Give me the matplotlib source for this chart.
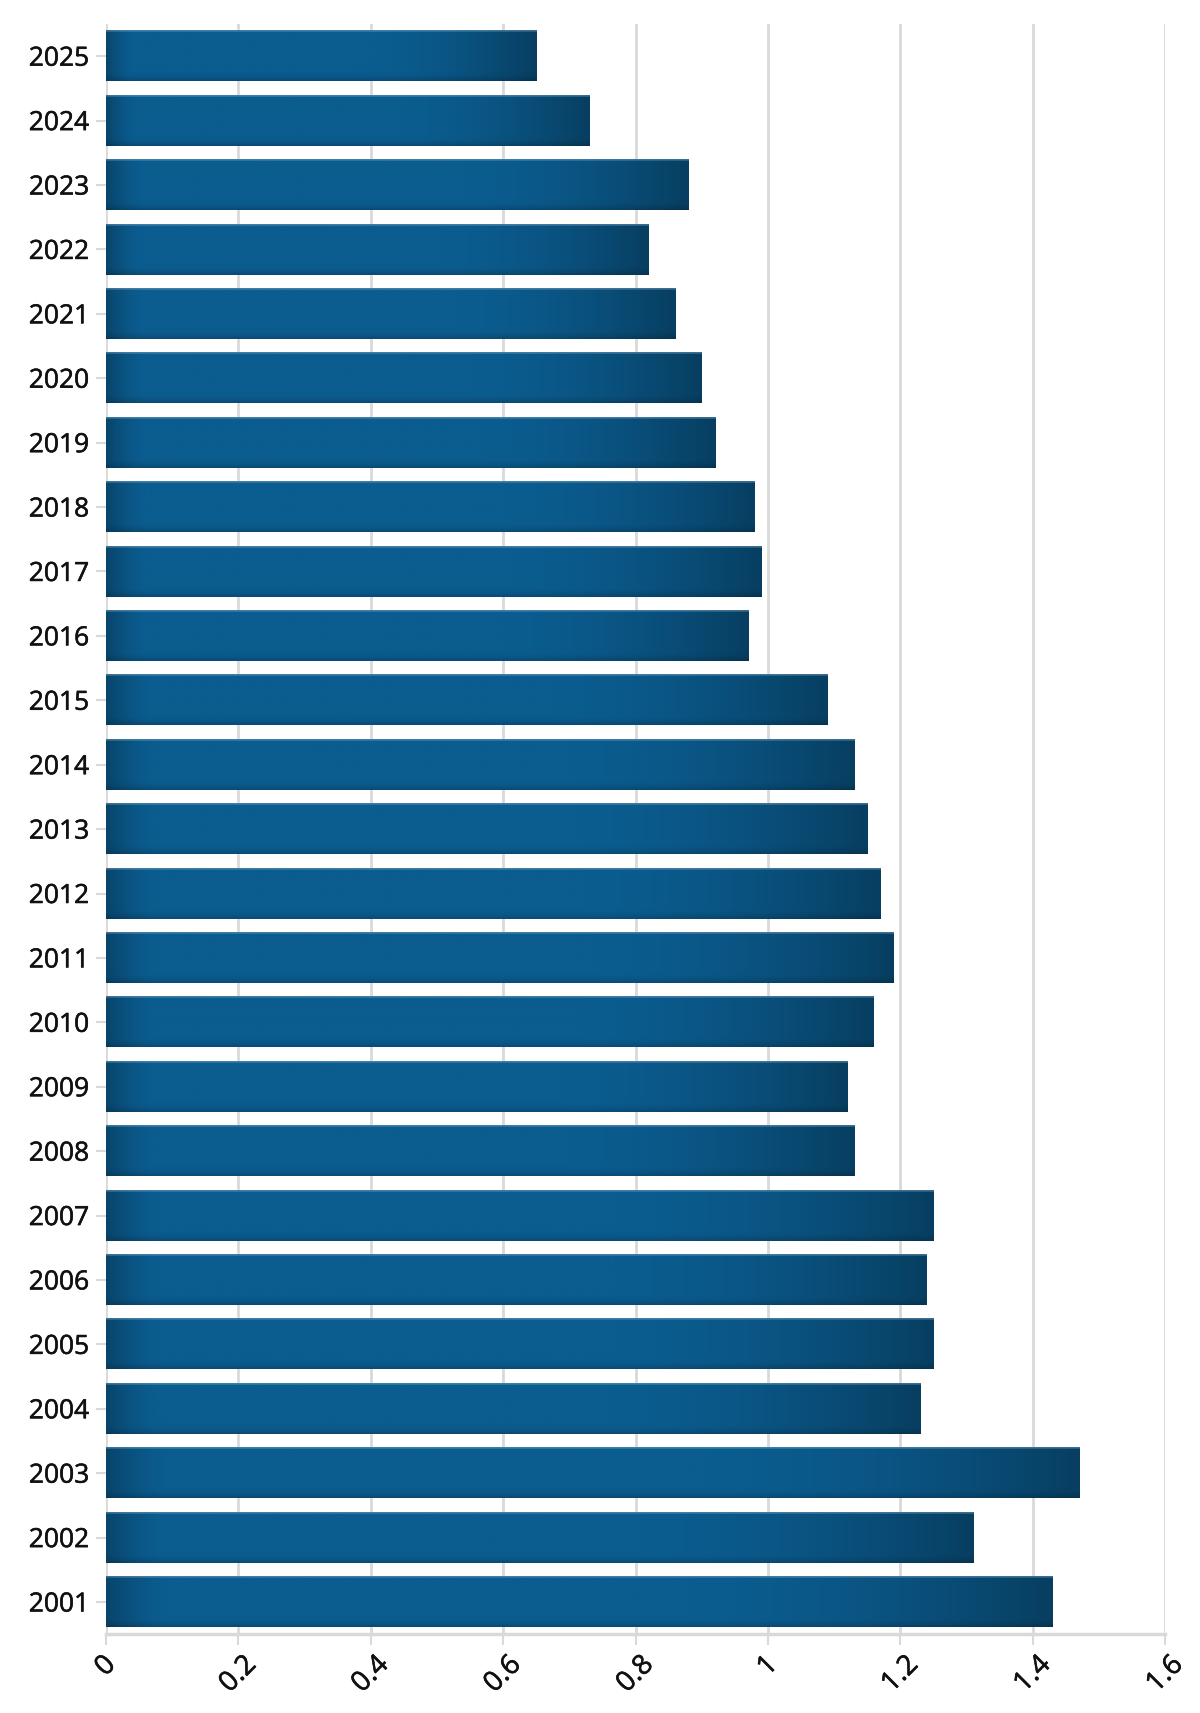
import numpy as np
import matplotlib
matplotlib.use("Agg")
from matplotlib import pyplot as plt
from matplotlib import patheffects

# data
years = [2025, 2024, 2023, 2022, 2021, 2020, 2019, 2018, 2017, 2016, 2015, 2014, 2013,
         2012, 2011, 2010, 2009, 2008, 2007, 2006, 2005, 2004, 2003, 2002, 2001]
values = [0.65, 0.73, 0.88, 0.82, 0.86, 0.90, 0.92, 0.98, 0.99, 0.97, 1.09, 1.13, 1.15,
          1.17, 1.19, 1.16, 1.12, 1.13, 1.25, 1.24, 1.25, 1.23, 1.47, 1.31, 1.43]
xticks = [0, 0.2, 0.4, 0.6, 0.8, 1, 1.2, 1.4, 1.6]
xticklabels = ['0', '0.2', '0.4', '0.6', '0.8', '1', '1.2', '1.4', '1.6']

plt.rcParams['font.family'] = ['Open Sans', 'DejaVu Sans']

#bar shading: base colour, darkened toward both ends and the bottom edge
base = np.array([11, 92, 143]) / 255.0
xs = np.linspace(0, 1, 300)
fx = 1 - 0.25 * np.clip((0.06 - xs) / 0.06, 0, 1) ** 1.5 - 0.32 * np.clip((xs - 0.62) / 0.38, 0, 1) ** 1.8
ys = np.linspace(0, 1, 60)
fy = 1 - 0.18 * np.clip((ys - 0.8) / 0.2, 0, 1) ** 2
shade = (fy[:, None, None] * fx[None, :, None]) * base[None, None, :]
shade[0:2, :, :] = shade[0:2, :, :] * 0.6 + np.array([0.55, 0.7, 0.82]) * 0.4

fig = plt.figure(figsize=(12, 17.13), dpi=100)
ax = fig.add_axes([0.0883, 0.046, 0.8827, 0.940])

n = len(years)
ypos = np.arange(n)
bh = 0.78
for y, v in zip(ypos, values):
    ax.imshow(np.clip(shade, 0, 1), aspect='auto', extent=(0, v, y + bh / 2, y - bh / 2),
              interpolation='bilinear', zorder=2)

ax.set_xlim(0, 1.6)
ax.set_ylim(n - 0.5, -0.5)

thick = [patheffects.withStroke(linewidth=0.4, foreground='#111111')]
ax.set_yticks(ypos)
ax.set_yticklabels([str(y) for y in years], fontsize=19, color='#111111', path_effects=thick)
ax.set_xticks(xticks)
ax.set_xticklabels(xticklabels, fontsize=20, rotation=45, ha='center', va='top',
                   color='#111111', path_effects=thick)
ax.tick_params(axis='y', length=7, width=1.5, color='#d9d9d9', pad=5)
ax.tick_params(axis='x', length=8, width=1.5, color='#d9d9d9', pad=4)

ax.grid(axis='x', color='#d9d9d9', lw=2, zorder=0)
ax.set_axisbelow(True)
for s in ['top', 'right', 'left']:
    ax.spines[s].set_visible(False)
ax.spines['bottom'].set_color('#d9d9d9')
ax.spines['bottom'].set_linewidth(2.5)

fig.savefig('out.png', dpi=100, facecolor='white')
